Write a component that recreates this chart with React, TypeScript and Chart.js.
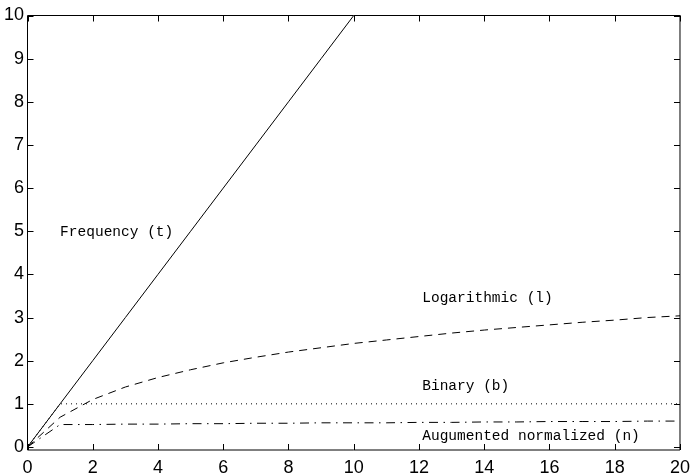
import React, { useEffect, useRef } from "react";
import { Chart, registerables } from "chart.js";

Chart.register(...registerables);

const xValues = [0, 1, 2, 3, 4, 5, 6, 7, 8, 9, 10, 11, 12, 13, 14, 15, 16, 17, 18, 19, 20];
const frequency = [0, 1, 2, 3, 4, 5, 6, 7, 8, 9, 10];
const logarithmic = [0, 0.69, 1.1, 1.39, 1.61, 1.79, 1.95, 2.08, 2.2, 2.3, 2.4, 2.48, 2.56, 2.64, 2.71, 2.77, 2.83, 2.89, 2.94, 3.0, 3.04];
const binary = [0, 1, 1, 1, 1, 1, 1, 1, 1, 1, 1, 1, 1, 1, 1, 1, 1, 1, 1, 1, 1];
const augmented = [0, 0.52, 0.52, 0.53, 0.53, 0.54, 0.54, 0.55, 0.55, 0.56, 0.56, 0.56, 0.57, 0.57, 0.58, 0.58, 0.59, 0.59, 0.59, 0.6, 0.6];

const xTicks = [0, 2, 4, 6, 8, 10, 12, 14, 16, 18, 20];
const yTicks = [0, 1, 2, 3, 4, 5, 6, 7, 8, 9, 10];

const curveLabels = [
  { text: "Frequency (t)", x: 1, y: 4.97 },
  { text: "Logarithmic (l)", x: 12.1, y: 3.45 },
  { text: "Binary (b)", x: 12.1, y: 1.42 },
  { text: "Augumented normalized (n)", x: 12.1, y: 0.26 },
];

const tickFont = { family: '"Liberation Sans Narrow", "Liberation Sans", Arial, sans-serif', size: 18 };

const toPoints = (ys: number[]) => ys.map((v, i) => ({ x: xValues[i], y: v }));

const framePlugin = {
  id: "frame",
  afterDraw(chart: any) {
    const { ctx, chartArea: a, scales } = chart;
    const xs = scales.x;
    const ys = scales.y;
    ctx.save();
    ctx.strokeStyle = "#000";
    ctx.lineWidth = 1;
    ctx.setLineDash([]);
    ctx.beginPath();
    ctx.rect(a.left, a.top, a.right - a.left, a.bottom - a.top);
    ctx.stroke();
    const tl = 6;
    ctx.beginPath();
    xTicks.forEach((v) => {
      const px = Math.round(xs.getPixelForValue(v)) + 0.5;
      ctx.moveTo(px, a.bottom);
      ctx.lineTo(px, a.bottom - tl);
      ctx.moveTo(px, a.top);
      ctx.lineTo(px, a.top + tl);
    });
    yTicks.forEach((v) => {
      const py = Math.round(ys.getPixelForValue(v)) + 0.5;
      ctx.moveTo(a.left, py);
      ctx.lineTo(a.left + tl, py);
      ctx.moveTo(a.right, py);
      ctx.lineTo(a.right - tl, py);
    });
    ctx.stroke();
    ctx.fillStyle = "#000";
    ctx.font = '14.5px "Liberation Mono", "DejaVu Sans Mono", monospace';
    ctx.textAlign = "left";
    ctx.textBaseline = "middle";
    curveLabels.forEach((l) => {
      ctx.fillText(l.text, xs.getPixelForValue(l.x), ys.getPixelForValue(l.y));
    });
    ctx.restore();
  },
};

export default function App() {
  const ref = useRef<HTMLCanvasElement | null>(null);
  useEffect(() => {
    if (!ref.current) return;
    const common = { borderColor: "#000", borderWidth: 1, pointRadius: 0, fill: false, tension: 0 };
    const chart = new Chart(ref.current, {
      type: "line",
      data: {
        datasets: [
          { ...common, label: "Frequency (t)", data: toPoints(frequency) },
          { ...common, label: "Logarithmic (l)", data: toPoints(logarithmic), borderDash: [8, 6] },
          { ...common, label: "Binary (b)", data: toPoints(binary), borderDash: [1, 4] },
          { ...common, label: "Augumented normalized (n)", data: toPoints(augmented), borderDash: [9, 5.5, 1.5, 5.5] },
        ],
      },
      options: {
        animation: false,
        responsive: false,
        maintainAspectRatio: false,
        events: [],
        layout: { padding: { top: 15.5, right: 11, left: 0, bottom: 0 } },
        plugins: { legend: { display: false }, tooltip: { enabled: false } },
        scales: {
          x: {
            type: "linear",
            min: 0,
            max: 20,
            afterBuildTicks: (s: any) => {
              s.ticks = xTicks.map((v) => ({ value: v }));
            },
            afterFit: (s: any) => {
              s.height = 26;
            },
            grid: { display: false, drawTicks: false },
            border: { display: false },
            ticks: { color: "#000", font: tickFont, padding: 7, maxRotation: 0, autoSkip: false },
          },
          y: {
            type: "linear",
            min: -0.07,
            max: 10,
            afterBuildTicks: (s: any) => {
              s.ticks = yTicks.map((v) => ({ value: v }));
            },
            afterFit: (s: any) => {
              s.width = 27.5;
            },
            grid: { display: false, drawTicks: false },
            border: { display: false },
            ticks: { color: "#000", font: tickFont, padding: 3.5, autoSkip: false },
          },
        },
      },
      plugins: [framePlugin],
    } as any);
    return () => chart.destroy();
  }, []);
  return (
    <div style={{ position: "absolute", left: 0, top: 0, width: 697, height: 476, background: "#fff" }}>
      <canvas ref={ref} width={697} height={476} style={{ display: "block", width: 697, height: 476 }} />
    </div>
  );
}
